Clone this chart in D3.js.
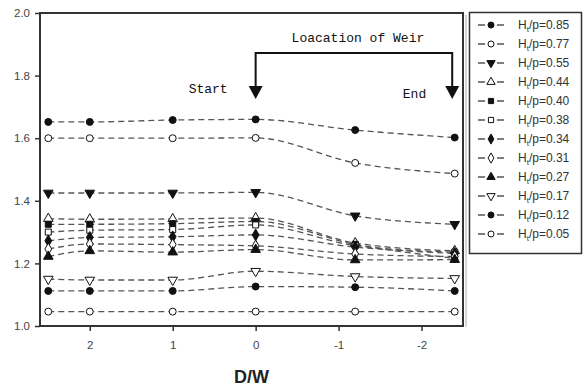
<!DOCTYPE html>
<html>
<head>
<meta charset="utf-8">
<script src="https://cdn.jsdelivr.net/npm/d3@7"></script>
<style>
  body { margin: 0; background: #fff; }
  svg { display: block; }
</style>
</head>
<body>
<svg id="chart" width="584" height="389"></svg>
<script>
// D/W positions of the measuring stations
const stations = [2.5, 2, 1, 0, -1.2, -2.4];

const ratios = ["0.85", "0.77", "0.55", "0.44", "0.40", "0.38", "0.34", "0.31", "0.27", "0.17", "0.12", "0.05"];

const s085 = [1.652, 1.652, 1.658, 1.660, 1.626, 1.602];
const s077 = [1.600, 1.600, 1.600, 1.601, 1.521, 1.487];
const s055 = [1.425, 1.425, 1.425, 1.427, 1.352, 1.325];
const s044 = [1.343, 1.341, 1.342, 1.345, 1.265, 1.240];
const s040 = [1.325, 1.325, 1.327, 1.334, 1.261, 1.216];
const s038 = [1.300, 1.306, 1.308, 1.323, 1.257, 1.236];
const s034 = [1.272, 1.283, 1.285, 1.291, 1.252, 1.232];
const s031 = [1.246, 1.262, 1.260, 1.256, 1.230, 1.222];
const s027 = [1.222, 1.240, 1.236, 1.244, 1.211, 1.212];
const s017 = [1.150, 1.147, 1.147, 1.175, 1.158, 1.152];
const s012 = [1.112, 1.112, 1.112, 1.126, 1.124, 1.112];
const s005 = [1.046, 1.046, 1.046, 1.046, 1.046, 1.046];

const seriesValues = [s085, s077, s055, s044, s040, s038, s034, s031, s027, s017, s012, s005];
const markers = ["circle", "circle", "triDown", "triUp", "square", "square", "diamond", "diamond", "triUp", "triDown", "circle", "circle"];
const filled = [true, false, true, false, true, false, true, false, true, false, true, false];

const xTicks = [2, 1, 0, -1, -2];
const yTicks = [1.0, 1.2, 1.4, 1.6, 1.8, 2.0];

const weirStart = 0;
const weirEnd = -2.37;

const svg = d3.select("#chart");
const mLeft = 40, mRight = 463, mTop = 13, mBottom = 326;

const x = d3.scaleLinear().domain([2.6, -2.5]).range([mLeft, mRight]);
const y = d3.scaleLinear().domain([1.0, 2.0]).range([mBottom, mTop]);

// frame shadow + frame
svg.append("line")
    .attr("x1", mRight + 3).attr("x2", mRight + 3)
    .attr("y1", mTop + 2).attr("y2", mBottom + 1)
    .attr("stroke", "#c8c8c8").attr("stroke-width", 1.5);
svg.append("rect")
    .attr("x", mLeft).attr("y", mTop)
    .attr("width", mRight - mLeft).attr("height", mBottom - mTop)
    .attr("fill", "none").attr("stroke", "#333").attr("stroke-width", 2);

const yAxis = svg.append("g")
    .attr("transform", `translate(${mLeft},0)`)
    .call(d3.axisLeft(y).tickValues(yTicks).tickFormat(d3.format(".1f")).tickSize(5).tickPadding(5));
const xAxis = svg.append("g")
    .attr("transform", `translate(0,${mBottom})`)
    .call(d3.axisBottom(x).tickValues(xTicks).tickFormat(d => d3.format("d")(d).replace("−", "-")).tickSize(5).tickPadding(10));

[xAxis, yAxis].forEach(g => {
    g.select(".domain").remove();
    g.selectAll(".tick line").attr("stroke", "#333").attr("stroke-width", 1.5);
    g.selectAll(".tick text")
        .attr("fill", "#444")
        .style("font-family", "Liberation Sans, Arial, sans-serif")
        .style("font-size", "11.5px");
});

svg.append("text")
    .attr("x", x(0.05)).attr("y", 383)
    .attr("text-anchor", "middle")
    .attr("fill", "#222")
    .style("font-family", "Liberation Sans, Arial, sans-serif")
    .style("font-weight", "bold")
    .style("font-size", "18px")
    .text("D/W");

const line = d3.line()
    .x((d, i) => x(stations[i]))
    .y(d => y(d))
    .curve(d3.curveMonotoneX);

function markerPath(kind, scale) {
    const s = scale || 1;
    if (kind === "circle") return d3.symbol(d3.symbolCircle, 38 * s)();
    if (kind === "square") return d3.symbol(d3.symbolSquare, 36 * s)();
    if (kind === "diamond") return d3.symbol(d3.symbolDiamond, 40 * s)();
    return d3.symbol(d3.symbolTriangle, 40 * s)();
}
function markerTransform(kind, px, py) {
    return kind === "triDown" ? `translate(${px},${py}) rotate(180)` : `translate(${px},${py})`;
}

seriesValues.forEach((vals, k) => {
    svg.append("path")
        .attr("d", line(vals))
        .attr("fill", "none")
        .attr("stroke", "#555")
        .attr("stroke-width", 1.3)
        .attr("stroke-dasharray", "6,4");
});
seriesValues.forEach((vals, k) => {
    svg.append("g").selectAll("path")
        .data(vals)
        .join("path")
        .attr("d", markerPath(markers[k]))
        .attr("transform", (d, i) => markerTransform(markers[k], x(stations[i]), y(d)))
        .attr("fill", filled[k] ? "#111" : "#fff")
        .attr("stroke", "#111")
        .attr("stroke-width", 1);
});

// weir annotation
const ann = svg.append("g");
const bracketY = 53, arrowTip = 99, arrowH = 13;
ann.append("path")
    .attr("d", `M${x(weirStart)},${arrowTip - arrowH} V${bracketY} H${x(weirEnd)} V${arrowTip - arrowH}`)
    .attr("fill", "none").attr("stroke", "#111").attr("stroke-width", 2);
[weirStart, weirEnd].forEach(v => {
    const cx = x(v);
    ann.append("path")
        .attr("d", `M${cx - 7},${arrowTip - arrowH} L${cx + 7},${arrowTip - arrowH} L${cx},${arrowTip} Z`)
        .attr("fill", "#111");
});
const mono = "Liberation Mono, DejaVu Sans Mono, monospace";
ann.append("text")
    .attr("x", (x(weirStart) + x(weirEnd)) / 2 + 4).attr("y", 42)
    .attr("text-anchor", "middle").attr("fill", "#111")
    .style("font-family", mono).style("font-size", "13px")
    .text("Loacation of Weir");
ann.append("text")
    .attr("x", x(weirStart) - 28).attr("y", 93)
    .attr("text-anchor", "end").attr("fill", "#111")
    .style("font-family", mono).style("font-size", "13px")
    .text("Start");
ann.append("text")
    .attr("x", x(weirEnd) - 26).attr("y", 98)
    .attr("text-anchor", "end").attr("fill", "#111")
    .style("font-family", mono).style("font-size", "13px")
    .text("End");

// legend
const lg = svg.append("g");
lg.append("rect")
    .attr("x", 469.5).attr("y", 12.5)
    .attr("width", 112).attr("height", 241)
    .attr("fill", "#fff").attr("stroke", "#333").attr("stroke-width", 1.5);
ratios.forEach((r, k) => {
    const ly = 25 + k * 19;
    lg.append("line")
        .attr("x1", 478).attr("x2", 485).attr("y1", ly).attr("y2", ly)
        .attr("stroke", "#555").attr("stroke-width", 1.5);
    lg.append("line")
        .attr("x1", 497).attr("x2", 504).attr("y1", ly).attr("y2", ly)
        .attr("stroke", "#555").attr("stroke-width", 1.5);
    lg.append("path")
        .attr("d", markerPath(markers[k], 0.75))
        .attr("transform", markerTransform(markers[k], 491, ly))
        .attr("fill", filled[k] ? "#111" : "#fff")
        .attr("stroke", "#111").attr("stroke-width", 1);
    const t = lg.append("text")
        .attr("x", 518).attr("y", ly + 4)
        .attr("fill", "#333")
        .style("font-family", "Liberation Sans, Arial, sans-serif")
        .style("font-size", "12px");
    t.append("tspan").text("H");
    t.append("tspan").attr("font-size", "8px").attr("dy", 3).text("t");
    t.append("tspan").attr("dy", -3).text("/p=" + r);
});
</script>
</body>
</html>
